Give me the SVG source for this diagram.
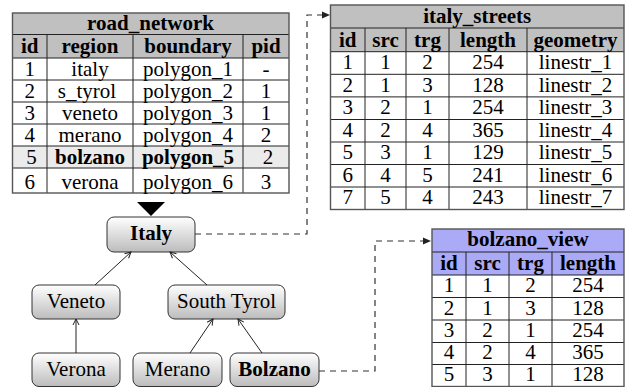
<svg xmlns="http://www.w3.org/2000/svg" width="627" height="387" viewBox="0 0 627 387" font-family="'Liberation Serif', 'Times New Roman', 'DejaVu Serif', serif">
<style>
  text { font-family: 'Liberation Serif', 'Times New Roman', 'DejaVu Serif', serif; font-size: 21px; fill: #000; text-anchor: middle; }
  .b { font-weight: bold; }
  .hdr { fill: #c0c0c0; }
  .hdrv { fill: #aaaaf6; }
  .grid { stroke: #222; stroke-width: 1; fill: none; }
  .outer { stroke: #555; stroke-width: 1.4; fill: none; }
  .node rect { fill: url(#ng); stroke: #333; stroke-width: 1; }
  .edge { stroke: #222; stroke-width: 1; fill: none; marker-end: url(#open); }
  .dash { stroke: #333; stroke-width: 1.2; fill: none; stroke-dasharray: 6 5; }
</style>
<defs>
  <linearGradient id="ng" x1="0" y1="0" x2="0" y2="1">
    <stop offset="0" stop-color="#ffffff"/>
    <stop offset="1" stop-color="#bcbcbc"/>
  </linearGradient>
  <marker id="open" viewBox="0 0 8 8" refX="7" refY="4" markerWidth="8" markerHeight="8" markerUnits="userSpaceOnUse" orient="auto">
    <path d="M1,1 L7,4 L1,7" fill="none" stroke="#222" stroke-width="1"/>
  </marker>
</defs>

<!-- road_network table -->
<g id="road_network">
  <rect class="hdr" x="12.5" y="13" width="276.5" height="45"/>
  <rect x="12.5" y="146" width="276.5" height="22" fill="#ebebeb"/>
  <path class="grid" d="M12.5,34.5 H289 M12.5,58 H289 M12.5,80 H289 M12.5,102 H289 M12.5,124 H289 M12.5,146 H289 M12.5,168 H289 M47,34.5 V193 M133,34.5 V193 M243,34.5 V193"/>
  <rect class="outer" x="12.5" y="13" width="276.5" height="180"/>
  <text class="b" x="150.5" y="30">road_network</text>
  <text class="b" x="29.75" y="53">id</text>
  <text class="b" x="90" y="53">region</text>
  <text class="b" x="188" y="53">boundary</text>
  <text class="b" x="266" y="53">pid</text>
  <text x="29.75" y="76">1</text><text x="90" y="76">italy</text><text x="188" y="76">polygon_1</text><text x="266" y="76">-</text>
  <text x="29.75" y="98">2</text><text x="87" y="98">s_tyrol</text><text x="188" y="98">polygon_2</text><text x="266" y="98">1</text>
  <text x="29.75" y="120">3</text><text x="90" y="120">veneto</text><text x="188" y="120">polygon_3</text><text x="266" y="120">1</text>
  <text x="29.75" y="142">4</text><text x="90" y="142">merano</text><text x="188" y="142">polygon_4</text><text x="266" y="142">2</text>
  <text x="31.5" y="164">5</text><text class="b" x="90" y="164">bolzano</text><text class="b" x="188" y="164">polygon_5</text><text x="268" y="164">2</text>
  <text x="29.75" y="189">6</text><text x="90" y="189">verona</text><text x="188" y="189">polygon_6</text><text x="266" y="189">3</text>
</g>

<!-- italy_streets table -->
<g id="italy_streets">
  <rect class="hdr" x="330.5" y="5" width="293.5" height="46.7"/>
  <path class="grid" d="M330.5,28 H624 M330.5,51.7 H624 M330.5,74.3 H624 M330.5,96.9 H624 M330.5,119.5 H624 M330.5,142 H624 M330.5,164.5 H624 M330.5,187 H624 M365,28 V209.5 M406,28 V209.5 M449,28 V209.5 M527,28 V209.5"/>
  <rect class="outer" x="330.5" y="5" width="293.5" height="204.5"/>
  <text class="b" x="477.25" y="23">italy_streets</text>
  <text class="b" x="347.75" y="46.5">id</text><text class="b" x="385.5" y="46.5">src</text><text class="b" x="427.5" y="46.5">trg</text><text class="b" x="488" y="46.5">length</text><text class="b" x="575.5" y="46.5">geometry</text>
  <text x="347.75" y="69">1</text><text x="385.5" y="69">1</text><text x="427.5" y="69">2</text><text x="488" y="69">254</text><text x="575.5" y="69">linestr_1</text>
  <text x="347.75" y="91.5">2</text><text x="385.5" y="91.5">1</text><text x="427.5" y="91.5">3</text><text x="488" y="91.5">128</text><text x="575.5" y="91.5">linestr_2</text>
  <text x="347.75" y="114">3</text><text x="385.5" y="114">2</text><text x="427.5" y="114">1</text><text x="488" y="114">254</text><text x="575.5" y="114">linestr_3</text>
  <text x="347.75" y="136.5">4</text><text x="385.5" y="136.5">2</text><text x="427.5" y="136.5">4</text><text x="488" y="136.5">365</text><text x="575.5" y="136.5">linestr_4</text>
  <text x="347.75" y="159">5</text><text x="385.5" y="159">3</text><text x="427.5" y="159">1</text><text x="488" y="159">129</text><text x="575.5" y="159">linestr_5</text>
  <text x="347.75" y="181.5">6</text><text x="385.5" y="181.5">4</text><text x="427.5" y="181.5">5</text><text x="488" y="181.5">241</text><text x="575.5" y="181.5">linestr_6</text>
  <text x="347.75" y="204">7</text><text x="385.5" y="204">5</text><text x="427.5" y="204">4</text><text x="488" y="204">243</text><text x="575.5" y="204">linestr_7</text>
</g>

<!-- bolzano_view table -->
<g id="bolzano_view">
  <rect class="hdrv" x="432" y="229" width="192" height="46"/>
  <path class="grid" d="M432,252 H624 M432,275 H624 M432,297.5 H624 M432,320 H624 M432,342.5 H624 M432,364.5 H624 M466,252 V386.5 M509,252 V386.5 M552,252 V386.5"/>
  <rect class="outer" x="432" y="229" width="192" height="157.5"/>
  <text class="b" x="528" y="246">bolzano_view</text>
  <text class="b" x="449" y="269.5">id</text><text class="b" x="487.5" y="269.5">src</text><text class="b" x="530.5" y="269.5">trg</text><text class="b" x="588" y="269.5">length</text>
  <text x="449" y="292">1</text><text x="487.5" y="292">1</text><text x="530.5" y="292">2</text><text x="588" y="292">254</text>
  <text x="449" y="314.5">2</text><text x="487.5" y="314.5">1</text><text x="530.5" y="314.5">3</text><text x="588" y="314.5">128</text>
  <text x="449" y="337">3</text><text x="487.5" y="337">2</text><text x="530.5" y="337">1</text><text x="588" y="337">254</text>
  <text x="449" y="359">4</text><text x="487.5" y="359">2</text><text x="530.5" y="359">4</text><text x="588" y="359">365</text>
  <text x="449" y="381">5</text><text x="487.5" y="381">3</text><text x="530.5" y="381">1</text><text x="588" y="381">128</text>
</g>

<!-- triangle pointer -->
<polygon id="pointer" points="137,202 165,202 151,216" fill="#000"/>

<!-- tree nodes -->
<g id="node-italy" class="node"><rect x="107" y="217" width="88" height="35" rx="7"/><text class="b" x="151" y="240">Italy</text></g>
<g id="node-veneto" class="node"><rect x="32" y="285" width="88" height="34" rx="7"/><text x="76" y="308">Veneto</text></g>
<g id="node-southtyrol" class="node"><rect x="168" y="285" width="117" height="34" rx="7"/><text x="226.5" y="308">South Tyrol</text></g>
<g id="node-verona" class="node"><rect x="32" y="353" width="88" height="33.5" rx="7"/><text x="76" y="376">Verona</text></g>
<g id="node-merano" class="node"><rect x="133" y="353" width="89" height="33.5" rx="7"/><text x="177.5" y="376">Merano</text></g>
<g id="node-bolzano" class="node"><rect x="230" y="353" width="89" height="33.5" rx="7"/><text class="b" x="274.5" y="376">Bolzano</text></g>

<!-- connectors -->
<g id="connectors">
  <line class="edge" x1="95" y1="285" x2="131" y2="252"/>
  <line class="edge" x1="207" y1="285" x2="170" y2="252"/>
  <line class="edge" x1="76" y1="353" x2="76" y2="319"/>
  <line class="edge" x1="190" y1="353" x2="213" y2="319"/>
  <line class="edge" x1="262" y1="353" x2="238" y2="319"/>
  <path class="dash" d="M195,234 H307 V15 H322" />
  <path d="M322,11.5 L330,15 L322,18.5 Z" fill="#222"/>
  <path class="dash" d="M319,371 H375 V241 H424" />
  <path d="M423,237.5 L431,241 L423,244.5 Z" fill="#222"/>
</g>
</svg>
